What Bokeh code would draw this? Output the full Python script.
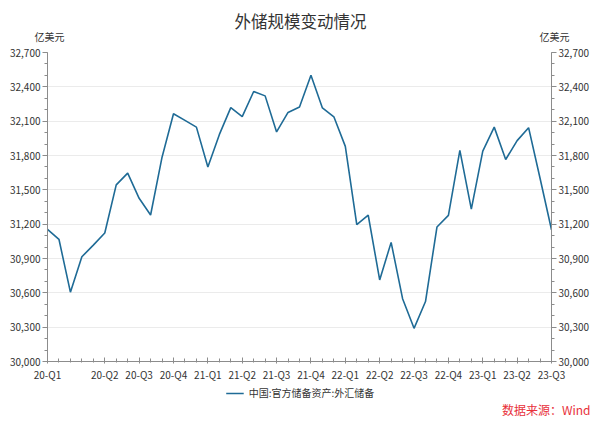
from bokeh.plotting import figure
from bokeh.layouts import column
from bokeh.models import (Range1d, LinearAxis, FixedTicker, NumeralTickFormatter,
                          Legend, LegendItem, Label)
from bokeh.embed import file_html
from bokeh.resources import INLINE

# ---- data ----
reserves = [31155, 31068, 30606, 30915, 31017, 31123, 31543, 31646, 31426, 31280,
            31785, 32165, 32107, 32048, 31700, 31982, 32218, 32140, 32359, 32321,
            32006, 32176, 32224, 32502, 32216, 32138, 31880, 31197, 31278, 30713,
            31041, 30549, 30290, 30524, 31175, 31277, 31845, 31332, 31839, 32048,
            31765, 31930, 32043, 31601, 31151]
month_index = list(range(len(reserves)))
quarter_ticks = [0, 5, 8, 11, 14, 17, 20, 23, 26, 29, 32, 35, 38, 41, 44]
quarter_labels = ["20-Q1", "20-Q2", "20-Q3", "20-Q4", "21-Q1", "21-Q2", "21-Q3",
                  "21-Q4", "22-Q1", "22-Q2", "22-Q3", "22-Q4", "23-Q1", "23-Q2", "23-Q3"]
y_ticks = [30000, 30300, 30600, 30900, 31200, 31500, 31800, 32100, 32400, 32700]
y_minor = list(range(30000, 32701, 100))
series_name = "中国:官方储备资产:外汇储备"
title_text = "外储规模变动情况"
unit_text = "亿美元"
source_text = "数据来源：Wind"

CJK = "Noto Sans CJK SC"
TXT = "#333333"
LINE = "#1f6b96"
W = 600


def strip(height):
    f = figure(width=W, height=height, output_backend="svg", toolbar_location=None,
               x_range=Range1d(0, W), y_range=Range1d(height, 0),
               min_border=0, min_border_left=0, min_border_right=0,
               min_border_top=0, min_border_bottom=0)
    f.axis.visible = False
    f.grid.visible = False
    f.outline_line_color = None
    f.border_fill_color = "white"
    f.background_fill_color = "white"
    f.frame_align = False
    return f


# ---- top strip: title and unit labels ----
t = strip(44)
t.add_layout(Label(x=300, y=20, text=title_text, text_align="center",
                   text_baseline="middle", text_font=CJK, text_font_size="16.5px",
                   text_color=TXT))
for ux in (49, 554):
    t.add_layout(Label(x=ux, y=36, text=unit_text, text_align="center",
                       text_baseline="middle", text_font=CJK, text_font_size="10px",
                       text_color=TXT))

# ---- main chart ----
p = figure(width=W, height=340, output_backend="svg", toolbar_location=None,
           x_range=Range1d(0, len(reserves) - 1), y_range=Range1d(30000, 32700),
           min_border_left=47, min_border_right=49, min_border_top=8,
           min_border_bottom=23, y_axis_location=None, x_axis_location=None)
p.outline_line_color = None
p.background_fill_color = "white"
p.border_fill_color = "white"

yt = FixedTicker(ticks=y_ticks, minor_ticks=y_minor)
fmt = NumeralTickFormatter(format="0,0")


def style_axis(ax):
    ax.axis_line_color = "#8c8c8c"
    ax.major_tick_line_color = "#8c8c8c"
    ax.minor_tick_line_color = "#8c8c8c"
    ax.major_label_text_font = CJK
    ax.major_label_text_font_size = "10px"
    ax.major_label_text_color = TXT
    ax.major_tick_out = 5
    ax.major_tick_in = 0
    ax.minor_tick_out = 3
    ax.minor_tick_in = 0
    ax.major_label_standoff = 2


for side in ("left", "right"):
    ax = LinearAxis(ticker=yt, formatter=fmt)
    style_axis(ax)
    p.add_layout(ax, side)

xt = FixedTicker(ticks=quarter_ticks, minor_ticks=month_index)
xax = LinearAxis(ticker=xt)
style_axis(xax)
xax.major_label_overrides = {tk: lb for tk, lb in zip(quarter_ticks, quarter_labels)}
xax.major_tick_out = 2
xax.major_tick_in = 4
xax.minor_tick_out = 1
xax.minor_tick_in = 3
xax.major_label_standoff = 3
p.add_layout(xax, "below")

p.xgrid.visible = False
p.ygrid.ticker = yt
p.ygrid.grid_line_color = "#ebebeb"

r = p.line(month_index, reserves, line_color=LINE, line_width=1.6)

# ---- bottom strip: legend and source ----
q = strip(40)
# same series, same style; lies outside this strip's range so only its legend shows
lr = q.line(month_index, reserves, line_color=LINE, line_width=1.6)
legend = Legend(items=[LegendItem(label=series_name, renderers=[lr])],
                orientation="horizontal", location="top_center",
                label_text_font=CJK, label_text_font_size="10px",
                label_text_color=TXT, border_line_color=None,
                background_fill_alpha=0, glyph_width=18, glyph_height=12,
                label_height=12, padding=0, margin=1, label_standoff=5)
q.add_layout(legend)
q.add_layout(Label(x=590, y=25, text=source_text, text_align="right",
                   text_baseline="middle", text_font=CJK, text_font_size="12px",
                   text_color="#e8303a"))

layout = column(t, p, q, spacing=0)
open("out.html", "w").write(file_html(layout, INLINE))
